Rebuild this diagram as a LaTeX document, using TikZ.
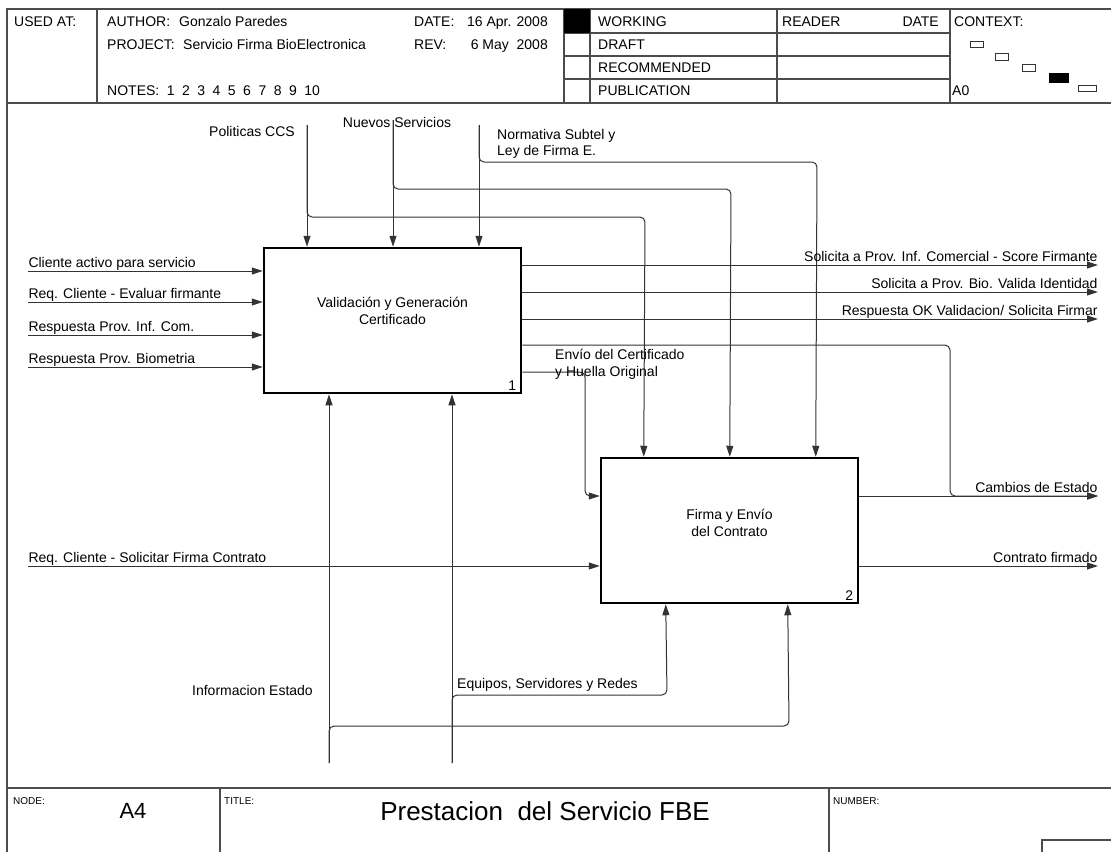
\documentclass[tikz,border=0pt]{standalone}
\usepackage{fontspec}
\setmainfont{Liberation Sans}
\usetikzlibrary{arrows.meta}

\begin{document}
\begin{tikzpicture}[x=1pt, y=-1pt,
  font=\fontsize{14}{16.5}\selectfont,
  frame/.style={draw=black!70, line width=1.2pt},
  fbox/.style={draw, line width=2.5pt, minimum width=257pt, minimum height=145pt,
               inner sep=0pt},
  btxt/.style={align=center, inner sep=0pt},
  ar/.style={draw=black!80, line width=1pt, -{Triangle[length=11pt, width=7pt]}},
  lbl/.style={inner sep=0pt},
  hd/.style={anchor=base west, inner sep=0pt},
  num/.style={anchor=south east, inner xsep=6pt, inner ysep=4pt},
  tiny/.style={font=\fontsize{10}{12}\selectfont, anchor=base west, inner sep=0pt},
  mini/.style={draw=black!80, line width=0.8pt}]

\fill[white] (0,0) rectangle (1111,852);
\useasboundingbox (0,0) rectangle (1111,852);

% frame and header
\draw[frame] (1111,9) -- (7,9) -- (7,852);
\draw[frame] (7,103) -- (1111,103);
\draw[frame] (7,788) -- (1111,788);
\foreach \x in {97,564,590,777,950} \draw[frame] (\x,9) -- (\x,103);
\foreach \y in {33,56,79} \draw[frame] (564,\y) -- (950,\y);
\fill (564,9) rectangle (590,33);

\node[hd] (usedat) at (14,26) {USED AT:};
\node[hd] (author) at (107,26) {AUTHOR:};
\node[hd] (authorv) at (179,26) {Gonzalo Paredes};
\node[hd] (project) at (107,49) {PROJECT:};
\node[hd] (projectv) at (183,49) {Servicio Firma BioElectronica};
\node[hd] (notes) at (107,95) {NOTES:\hspace{7.5pt}1\hspace{7.5pt}2\hspace{7.5pt}3\hspace{7.5pt}4\hspace{7.5pt}5\hspace{7.5pt}6\hspace{7.5pt}7\hspace{7.5pt}8\hspace{7.5pt}9\hspace{7.5pt}10};
\node[hd] (date) at (414,26) {DATE:};
\node[hd, anchor=base east] (datev) at (548,26) {16 Apr. 2008};
\node[hd] (rev) at (414,49) {REV:};
\node[hd, anchor=base east] (revv) at (548,49) {6 May\ \ 2008};
\node[hd] (working) at (598,26) {WORKING};
\node[hd] (draft) at (598,49) {DRAFT};
\node[hd] (recom) at (598,72) {RECOMMENDED};
\node[hd] (public) at (598,95) {PUBLICATION};
\node[hd] (reader) at (782,26) {READER};
\node[hd, anchor=base east] (rdate) at (939,26) {DATE};
\node[hd] (context) at (954,26) {CONTEXT:};
\node[hd] (azero) at (952,95) {A0};

\draw[mini] (970,41) rectangle (983,47);
\draw[mini] (995,53) rectangle (1008,60);
\draw[mini] (1022,64) rectangle (1035,71);
\fill (1049,73) rectangle (1069,83);
\draw[mini] (1078,85) rectangle (1096,91);

% activity boxes
\node[fbox] (vgc) at (392.5,320.5) {};
\node[btxt] (vgct) at (392.5,311) {Validación y Generación\\Certificado};
\node[num] (vgcn) at (vgc.south east) {1};

\node[fbox] (fec) at (729.5,530.5) {};
\node[btxt] (fect) at (729.5,523) {Firma y Envío\\del Contrato};
\node[num] (fecn) at (fec.south east) {2};

% inputs
\coordinate (i1) at (28,271);
\coordinate (i2) at (28,302);
\coordinate (i3) at (28,335);
\coordinate (i4) at (28,367);
\coordinate (i5) at (28,566);
\draw[ar] (i1) -- node[lbl, pos=0, anchor=base west, yshift=4pt] {Cliente activo para servicio} (i1 -| vgc.west);
\draw[ar] (i2) -- node[lbl, pos=0, anchor=base west, yshift=4pt] {Req. Cliente - Evaluar firmante} (i2 -| vgc.west);
\draw[ar] (i3) -- node[lbl, pos=0, anchor=base west, yshift=4pt] {Respuesta Prov. Inf. Com.} (i3 -| vgc.west);
\draw[ar] (i4) -- node[lbl, pos=0, anchor=base west, yshift=4pt] {Respuesta Prov. Biometria} (i4 -| vgc.west);
\draw[ar] (i5) -- node[lbl, pos=0, anchor=base west, yshift=4pt] {Req. Cliente - Solicitar Firma Contrato} (i5 -| fec.west);

% controls
\coordinate (c1) at (307,125);
\coordinate (c2) at (393,120);
\coordinate (c3) at (479,125);
\node[lbl, anchor=base east] (pol) at (295,136) {Politicas CCS};
\node[lbl, anchor=base] (nue) at (397,127) {Nuevos Servicios};
\node[lbl, anchor=north west, align=left] (nor) at (497,129) {Normativa Subtel y\\Ley de Firma E.};
\draw[ar] (c1) -- (c1 |- vgc.north);
\draw[ar] (c2) -- (c2 |- vgc.north);
\draw[ar] (c3) -- (c3 |- vgc.north);
\draw[ar, rounded corners=5pt] (c1) |- (645,217) -- ([xshift=44pt]fec.north west);
\draw[ar, rounded corners=5pt] (c2) |- (731,189) -- ([xshift=130pt]fec.north west);
\draw[ar, rounded corners=5pt] (c3) |- (817,162) -- ([xshift=216pt]fec.north west);

% outputs
\coordinate (o1) at (1098,265);
\coordinate (o2) at (1098,292);
\coordinate (o3) at (1098,319);
\coordinate (o4) at (1098,496);
\coordinate (o5) at (1098,566);
\draw[ar] (vgc.east |- o1) -- node[lbl, pos=1, anchor=base east, yshift=4pt] {Solicita a Prov. Inf. Comercial - Score Firmante} (o1);
\draw[ar] (vgc.east |- o2) -- node[lbl, pos=1, anchor=base east, yshift=4pt] {Solicita a Prov. Bio. Valida Identidad} (o2);
\draw[ar] (vgc.east |- o3) -- node[lbl, pos=1, anchor=base east, yshift=4pt] {Respuesta OK Validacion/ Solicita Firmar} (o3);
\draw[ar, rounded corners=5pt] (vgc.east |- 0,345) -| (950,496) -- (o4);
\draw[ar] (fec.east |- o4) -- node[lbl, pos=1, anchor=base east, yshift=4pt] {Cambios de Estado} (o4);
\draw[ar] (fec.east |- o5) -- node[lbl, pos=1, anchor=base east, yshift=4pt] {Contrato firmado} (o5);

% certificate to second box
\draw[ar, rounded corners=5pt] (vgc.east |- 0,372) -| (585,496) -- (fec.west |- o4);
\node[lbl, anchor=north west, align=left] (env) at (555,349) {Envío del Certificado\\y Huella Original};

% mechanisms
\coordinate (m1) at (329,763);
\coordinate (m2) at (452,763);
\draw[ar] (m1) -- (m1 |- vgc.south);
\draw[ar] (m2) -- (m2 |- vgc.south);
\draw[ar, rounded corners=5pt] (m1) |- (789,726) -- ([xshift=188pt]fec.south west);
\draw[ar, rounded corners=5pt] (m2) |- (667,695) -- ([xshift=66pt]fec.south west);
\node[lbl, anchor=base east] (inf) at (313,695) {Informacion Estado};
\node[lbl, anchor=base west] (equ) at (457,688) {Equipos, Servidores y Redes};

% footer
\draw[frame] (220,788) -- (220,852);
\draw[frame] (829,788) -- (829,852);
\draw[frame] (1042,852) -- (1042,840) -- (1111,840);
\node[tiny] (nodel) at (13,804) {NODE:};
\node[font=\fontsize{22}{24}\selectfont] (nodev) at (133,811) {A4};
\node[tiny] (titlel) at (224,804) {TITLE:};
\node[font=\fontsize{26}{28}\selectfont] (titlev) at (545,811) {Prestacion\ \ del Servicio FBE};
\node[tiny] (numl) at (833,804) {NUMBER:};
\end{tikzpicture}
\end{document}
